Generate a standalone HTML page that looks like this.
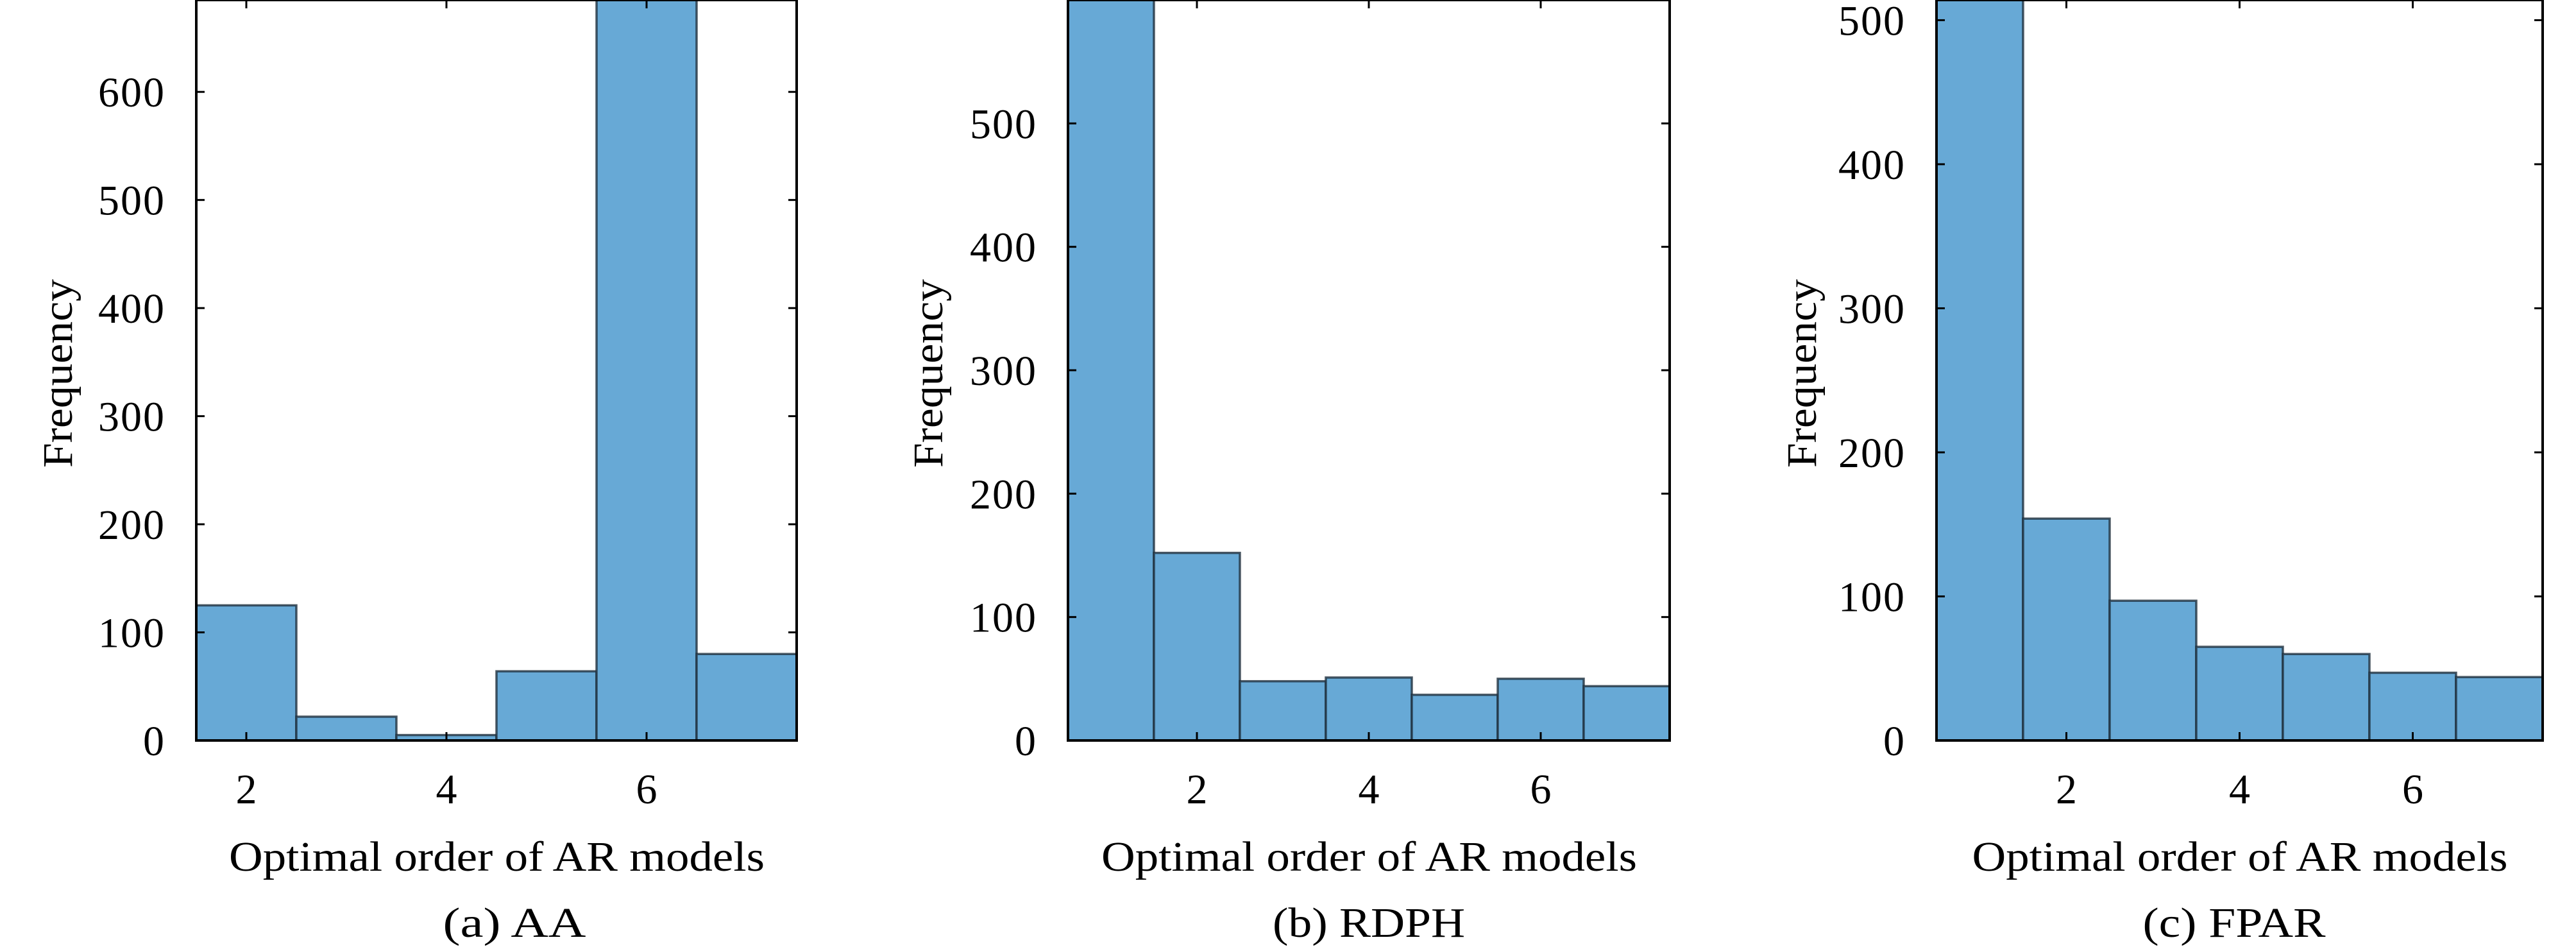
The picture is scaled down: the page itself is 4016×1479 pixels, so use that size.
<!DOCTYPE html>
<html><head><meta charset="utf-8"><style>
html,body{margin:0;padding:0;background:#fff;}
svg{display:block;font-family:"Liberation Serif",serif;}
</style></head><body>
<svg id="fig" width="4016" height="1479" viewBox="0 0 4016 1479" xmlns="http://www.w3.org/2000/svg"></svg>
<script>
const binsA = [2,3,4,5,6,7];
const valuesA = [125,22,5,64,700,80];
const binsB = [1,2,3,4,5,6,7];
const valuesB = [620,152,48,51,37,50,44];
const binsC = [1,2,3,4,5,6,7];
const valuesC = [540,154,97,65,60,47,44];
const yTicksA = [0,100,200,300,400,500,600];
const yTicksB = [0,100,200,300,400,500];
const yTicksC = [0,100,200,300,400,500];
const xTicks = [2,4,6];
const captions = ["(a) AA","(b) RDPH","(c) FPAR"];

const NS="http://www.w3.org/2000/svg";
const svg=document.getElementById('fig');
function mk(tag,attrs,parent){const e=document.createElementNS(NS,tag);for(const k in attrs)e.setAttribute(k,attrs[k]);(parent||svg).appendChild(e);return e;}

const panels=[
 {name:'aa',bins:binsA,vals:valuesA,yt:yTicksA,x0:306,x1:1242,xmin:1.5,xmax:7.5,ymax:685,cap:captions[0],capW:223,capX:802,ylab:90},
 {name:'rdph',bins:binsB,vals:valuesB,yt:yTicksB,x0:1665,x1:2603,xmin:0.5,xmax:7.5,ymax:600,cap:captions[1],capW:300,capX:2134,ylab:1447},
 {name:'fpar',bins:binsC,vals:valuesC,yt:yTicksC,x0:3019,x1:3964,xmin:0.5,xmax:7.5,ymax:514,cap:captions[2],capW:285,capX:3483,ylab:2809}
];
const yTop=0, yBot=1154;
panels.forEach(p=>{
  const g=mk('g',{});
  
  
  const sx=v=>p.x0+(v-p.xmin)/(p.xmax-p.xmin)*(p.x1-p.x0);
  const sy=v=>yBot-(v/p.ymax)*(yBot-yTop);
  const clip=mk('clipPath',{id:'clip-'+p.name},g);
  mk('rect',{x:p.x0,y:yTop,width:p.x1-p.x0,height:yBot-yTop},clip);
  const bg=mk('g',{'clip-path':'url(#clip-'+p.name+')'},g);
  p.bins.forEach((b,i)=>{
    const x=sx(b-0.5), w=sx(b+0.5)-x, y=sy(p.vals[i]);
    const r=mk('rect',{x:x,y:y,width:w,height:yBot-y,fill:'#67a9d6',stroke:'#1f2f3d','stroke-opacity':'0.8','stroke-width':3.5},bg);
    
    
  });
  xTicks.forEach(t=>{
    const x=sx(t);
    mk('line',{x1:x,x2:x,y1:yBot,y2:yBot-13,stroke:'#000','stroke-width':3},g);
    mk('line',{x1:x,x2:x,y1:yTop,y2:yTop+13,stroke:'#000','stroke-width':3},g);
    const tl=mk('text',{x:x,y:yBot+98,'font-size':66,'text-anchor':'middle'},g);
    tl.textContent=t;
    
    
  });
  p.yt.forEach(t=>{
    const y=sy(t);
    mk('line',{x1:p.x0,x2:p.x0+13,y1:y,y2:y,stroke:'#000','stroke-width':3},g);
    mk('line',{x1:p.x1,x2:p.x1-13,y1:y,y2:y,stroke:'#000','stroke-width':3},g);
    const tl=mk('text',{x:p.x0-48,y:y+23,'font-size':66,'text-anchor':'end','letter-spacing':2},g);
    tl.textContent=t;
    
    
  });
  const fr=mk('rect',{x:p.x0,y:yTop,width:p.x1-p.x0,height:yBot-yTop,fill:'none',stroke:'#000','stroke-width':4},g);
  
  
  const cx=(p.x0+p.x1)/2;
  const xl=mk('text',{x:cx-417,y:1357,'font-size':66,textLength:835,lengthAdjust:'spacingAndGlyphs'},g);
  xl.textContent='Optimal order of AR models';
  
  
  const yl=mk('text',{x:-147,y:0,'font-size':66,textLength:294,lengthAdjust:'spacingAndGlyphs',transform:'translate('+(p.ylab+22)+',582) rotate(-90)'},g);
  yl.textContent='Frequency';
  
  
  const cp=mk('text',{x:p.capX-p.capW/2,y:1460,'font-size':66,textLength:p.capW,lengthAdjust:'spacingAndGlyphs'},g);
  cp.textContent=p.cap;
  
  
});
</script>
</body></html>
